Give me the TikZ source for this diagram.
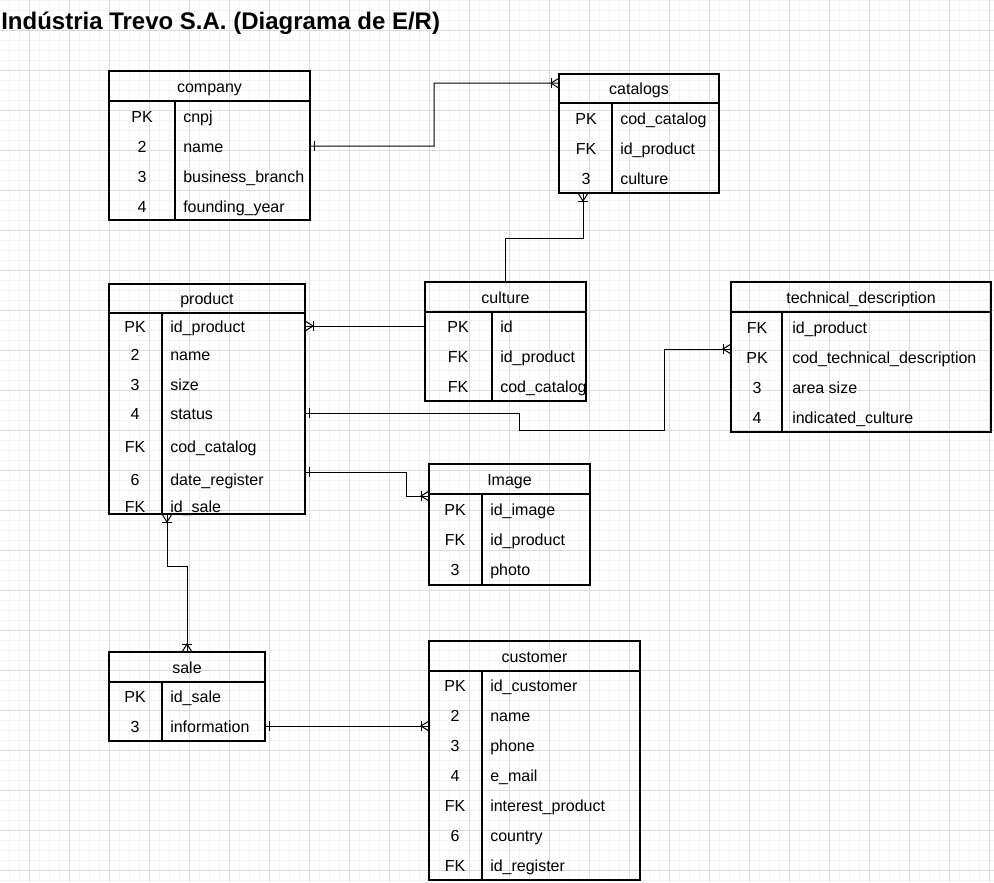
\documentclass[tikz,border=0pt]{standalone}
\usepackage{fontspec}
\setmainfont{Liberation Sans}
\usetikzlibrary{positioning}
\definecolor{gridminor}{RGB}{243,243,243}
\definecolor{gridmajor}{RGB}{220,220,220}

\begin{document}
\begin{tikzpicture}[
    x=0.75pt, y=-0.75pt,
    every node/.style={font=\fontsize{12}{14}\selectfont},
    tsize/.style 2 args={minimum width=#1*0.75pt, minimum height=#2*0.75pt},
    hdr/.style={draw, line width=1.5pt, outer sep=0pt, inner sep=0pt, anchor=north west,
        text height=11pt, text depth=2pt},
    tbody/.style={draw, line width=1.5pt, outer sep=0pt, inner sep=0pt},
    tline/.style={line width=1.5pt},
    key/.style={inner sep=0pt, text height=11pt, text depth=2pt},
    fld/.style={key, anchor=west},
    link/.style={line width=0.75pt},
    onebar/.pic={\draw[link] (4,-5) -- (4,5);},
    crowfoot/.pic={\draw[link] (0,-5) -- (8,0) -- (0,5); \draw[link] (8,-5) -- (8,5);}
]
    \useasboundingbox (0,0) rectangle (994,882);
    \fill[white] (0,0) rectangle (994,882);

    % background grid
    \foreach \gx in {9,19,...,989} \draw[gridminor, line width=0.75pt] (\gx,0) -- (\gx,882);
    \foreach \gy in {0,10,...,880} \draw[gridminor, line width=0.75pt] (0,\gy) -- (994,\gy);
    \foreach \gx in {29,69,...,989} \draw[gridmajor, line width=0.75pt] (\gx,0) -- (\gx,882);
    \foreach \gy in {30,70,...,870} \draw[gridmajor, line width=0.75pt] (0,\gy) -- (994,\gy);

    \node[anchor=base west, inner sep=0pt, font=\fontsize{18}{22}\selectfont\bfseries] (title) at (1,29)
        {Indústria Trevo S.A. (Diagrama de E/R)};

    % company
    \node[hdr, tsize={201}{30}] (company) at (109,71) {company};
    \node[tbody, tsize={201}{119}, below=0pt of company] (company_body) {};
    \draw[tline] (175,101) -- (175,220);
    \foreach \k/\f [count=\i] in {PK/cnpj, 2/name, 3/business\_branch, 4/founding\_year} {
        \node[key] (company_k\i) at (142,86+30*\i) {\k};
        \node[fld] (company_f\i) at (183,86+30*\i) {\f};
    }

    % catalogs
    \node[hdr, tsize={160}{29}] (catalogs) at (559,74) {catalogs};
    \node[tbody, tsize={160}{90}, below=0pt of catalogs] (catalogs_body) {};
    \draw[tline] (612,103) -- (612,193);
    \foreach \k/\f [count=\i] in {PK/cod\_catalog, FK/id\_product, 3/culture} {
        \node[key] (catalogs_k\i) at (586,88+30*\i) {\k};
        \node[fld] (catalogs_f\i) at (620,88+30*\i) {\f};
    }

    % culture
    \node[hdr, tsize={161}{30}] (culture) at (425,282) {culture};
    \node[tbody, tsize={161}{89}, below=0pt of culture] (culture_body) {};
    \draw[tline] (492,312) -- (492,401);
    \foreach \k/\f [count=\i] in {PK/id, FK/id\_product, FK/cod\_catalog} {
        \node[key] (culture_k\i) at (458,296+30*\i) {\k};
        \node[fld] (culture_f\i) at (500,296+30*\i) {\f};
    }

    % product
    \node[hdr, tsize={196}{29}] (product) at (109,284) {product};
    \node[tbody, tsize={196}{201}, below=0pt of product] (product_body) {};
    \draw[tline] (162,313) -- (162,514);
    \foreach \k/\f/\y [count=\i] in {PK/id\_product/326, 2/name/354, 3/size/384, 4/status/413,
            FK/cod\_catalog/446, 6/date\_register/479, FK/id\_sale/506} {
        \node[key] (product_k\i) at (135,\y) {\k};
        \node[fld] (product_f\i) at (170,\y) {\f};
    }

    % technical_description
    \node[hdr, tsize={260}{30}] (technical) at (731,282) {technical\_description};
    \node[tbody, tsize={260}{120}, below=0pt of technical] (technical_body) {};
    \draw[tline] (782,312) -- (782,432);
    \foreach \k/\f [count=\i] in {FK/id\_product, PK/cod\_technical\_description, 3/area size, 4/indicated\_culture} {
        \node[key] (technical_k\i) at (757,297+30*\i) {\k};
        \node[fld] (technical_f\i) at (792,297+30*\i) {\f};
    }

    % Image
    \node[hdr, tsize={161}{30}] (image) at (429,464) {Image};
    \node[tbody, tsize={161}{91}, below=0pt of image] (image_body) {};
    \draw[tline] (482,494) -- (482,585);
    \foreach \k/\f [count=\i] in {PK/id\_image, FK/id\_product, 3/photo} {
        \node[key] (image_k\i) at (455,479+30*\i) {\k};
        \node[fld] (image_f\i) at (490,479+30*\i) {\f};
    }

    % sale
    \node[hdr, tsize={156}{30}] (sale) at (109,652) {sale};
    \node[tbody, tsize={156}{59}, below=0pt of sale] (sale_body) {};
    \draw[tline] (162,682) -- (162,741);
    \foreach \k/\f [count=\i] in {PK/id\_sale, 3/information} {
        \node[key] (sale_k\i) at (135,666+30*\i) {\k};
        \node[fld] (sale_f\i) at (170,666+30*\i) {\f};
    }

    % customer
    \node[hdr, tsize={211}{30}] (customer) at (429,641) {customer};
    \node[tbody, tsize={211}{209}, below=0pt of customer] (customer_body) {};
    \draw[tline] (482,671) -- (482,880);
    \foreach \k/\f [count=\i] in {PK/id\_customer, 2/name, 3/phone, 4/e\_mail,
            FK/interest\_product, 6/country, FK/id\_register} {
        \node[key] (customer_k\i) at (455,655+30*\i) {\k};
        \node[fld] (customer_f\i) at (490,655+30*\i) {\f};
    }

    % relationships
    \draw[link] (company_f2 -| company_body.east) -| (434,83) -- ([yshift=4pt]catalogs.west);
    \pic at (company_f2 -| company_body.east) {onebar};
    \pic[rotate=180] at ([yshift=4pt]catalogs.west) {crowfoot};

    \draw[link] ([xshift=-42pt]catalogs_body.south) -- ++(0,45) -| (culture.north);
    \pic[rotate=-90] at ([xshift=-42pt]catalogs_body.south) {crowfoot};

    \draw[link] (culture_k1 -| culture_body.west) -- (culture_k1 -| product_body.east);
    \pic at (culture_k1 -| product_body.east) {crowfoot};

    \draw[link] (product_f4 -| product_body.east) -| (519,430) -| (664,349) -- ([yshift=6pt]technical_k2 -| technical_body.west);
    \pic at (product_f4 -| product_body.east) {onebar};
    \pic[rotate=180] at ([yshift=6pt]technical_k2 -| technical_body.west) {crowfoot};

    \draw[link] ([yshift=5pt]product_f6 -| product_body.east) -| ([xshift=-17pt, yshift=-1.5pt]image.south west) -- ([yshift=-1.5pt]image.south west);
    \pic at ([yshift=5pt]product_f6 -| product_body.east) {onebar};
    \pic[rotate=180] at ([yshift=-1.5pt]image.south west) {crowfoot};

    \draw[link] ([xshift=-30pt]product_body.south) -- ++(0,52) -| (sale.north);
    \pic[rotate=-90] at ([xshift=-30pt]product_body.south) {crowfoot};
    \pic[rotate=90] at (sale.north) {crowfoot};

    \draw[link] (sale_f2 -| sale_body.east) -- (sale_f2 -| customer_body.west);
    \pic at (sale_f2 -| sale_body.east) {onebar};
    \pic[rotate=180] at (sale_f2 -| customer_body.west) {crowfoot};
\end{tikzpicture}
\end{document}
